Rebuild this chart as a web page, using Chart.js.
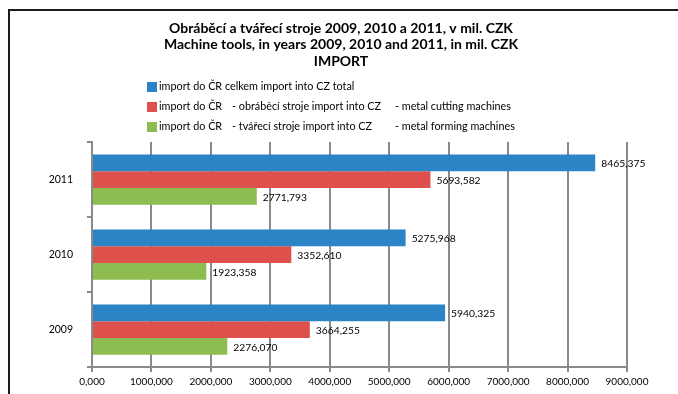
<!DOCTYPE html>
<html>
<head>
<meta charset="utf-8">
<script src="https://cdn.jsdelivr.net/npm/chart.js@4/dist/chart.umd.min.js"></script>
<style>
  html, body { margin: 0; padding: 0; background: #fff; overflow: hidden; }
  #wrap { position: relative; width: 678px; height: 394px; }
  #frame { position: absolute; left: 8px; top: 9px; width: 700px; height: 400px;
           border-top: 2px solid #1c1c1c; border-left: 2px solid #1c1c1c; pointer-events: none; }
</style>
</head>
<body>
<div id="wrap">
  <canvas id="importChart"></canvas>
  <div id="frame"></div>
</div>
<script>
const years = ["2011", "2010", "2009"];
const importTotal = [8465.375, 5275.968, 5940.325];
const importCutting = [5693.582, 3352.610, 3664.255];
const importForming = [2771.793, 1923.358, 2276.070];
const seriesLabels = [
    "import do ČR celkem import into CZ total",
    "import do ČR\t- obráběcí stroje import into CZ\t- metal cutting machines",
    "import do ČR\t- tvářecí stroje import into CZ\t- metal forming machines",
];
const titleLines = [
    "Obráběcí a tvářecí stroje 2009, 2010 a 2011, v mil. CZK",
    "Machine tools, in years 2009, 2010 and 2011, in mil. CZK",
    "IMPORT",
];
const xTicks = [0, 1000, 2000, 3000, 4000, 5000, 6000, 7000, 8000, 9000];

const fmt = (v) => v.toFixed(3).replace(".", ",");

// title + legend drawn above the plot (legend items use tab stops like the excel one)
const headerPlugin = {
    id: "header",
    afterDraw(chart) {
        const ctx = chart.ctx;
        ctx.save();
        ctx.fillStyle = "#000";
        ctx.textAlign = "center";
        ctx.textBaseline = "middle";
        ctx.font = "bold 14px Lato";
        titleLines.forEach((t, i) => ctx.fillText(t, 341, 28 + i * 16.5));

        const tabs = [0, 73, 236];
        ctx.font = "10.8px Lato";
        ctx.textAlign = "left";
        chart.data.datasets.forEach((ds, i) => {
            const y = 87 + i * 20;
            ctx.fillStyle = ds.backgroundColor;
            ctx.fillRect(147, y - 5, 10, 10);
            ctx.fillStyle = "#000";
            ds.label.split("\t").forEach((part, j) => ctx.fillText(part, 159 + tabs[j], y));
        });
        ctx.restore();
    },
};

const valueLabels = {
    id: "valueLabels",
    afterDatasetsDraw(chart) {
        const ctx = chart.ctx;
        ctx.save();
        ctx.font = "10.3px Lato";
        ctx.fillStyle = "#000";
        ctx.textAlign = "left";
        ctx.textBaseline = "middle";
        chart.data.datasets.forEach((ds, i) => {
            chart.getDatasetMeta(i).data.forEach((bar, j) => {
                ctx.fillText(fmt(ds.data[j]), bar.x + 6, bar.y + 1);
            });
        });
        ctx.restore();
    },
};

window.onload = function () {
    const ctx = document.getElementById("importChart").getContext("2d");
    window.importChart = new Chart(ctx, {
        type: "bar",
        data: {
            labels: years,
            datasets: [
                { label: seriesLabels[0], data: importTotal, backgroundColor: "#2a84c6" },
                { label: seriesLabels[1], data: importCutting, backgroundColor: "#dd504c" },
                { label: seriesLabels[2], data: importForming, backgroundColor: "#8dbd50" },
            ],
        },
        options: {
            indexAxis: "y",
            responsive: true,
            maintainAspectRatio: false,
            animation: false,
            layout: { padding: { top: 142, left: 8, right: 51, bottom: 0 } },
            datasets: {
                bar: { categoryPercentage: 0.67, barPercentage: 1.0 },
            },
            plugins: {
                legend: { display: false },
                title: { display: false },
                tooltip: { enabled: false },
            },
            scales: {
                x: {
                    min: 0,
                    max: 9000,
                    afterBuildTicks: (scale) => { scale.ticks = xTicks.map((v) => ({ value: v })); },
                    afterFit: (scale) => { scale.height = 27; },
                    grid: { color: "#8a8a8a", lineWidth: 2, tickLength: 5 },
                    border: { color: "#8a8a8a", width: 2 },
                    ticks: {
                        padding: 4,
                        color: "#000",
                        font: { family: "Lato", size: 10 },
                        maxRotation: 0,
                        callback: (v) => fmt(v),
                    },
                },
                y: {
                    afterFit: (scale) => { scale.width = 84; },
                    grid: { drawOnChartArea: false, color: "#8a8a8a", lineWidth: 2, tickLength: 5 },
                    border: { color: "#8a8a8a", width: 2 },
                    ticks: { padding: 14, color: "#000", font: { family: "Lato", size: 10.5 } },
                },
            },
        },
        plugins: [headerPlugin, valueLabels],
    });
};
</script>
</body>
</html>
